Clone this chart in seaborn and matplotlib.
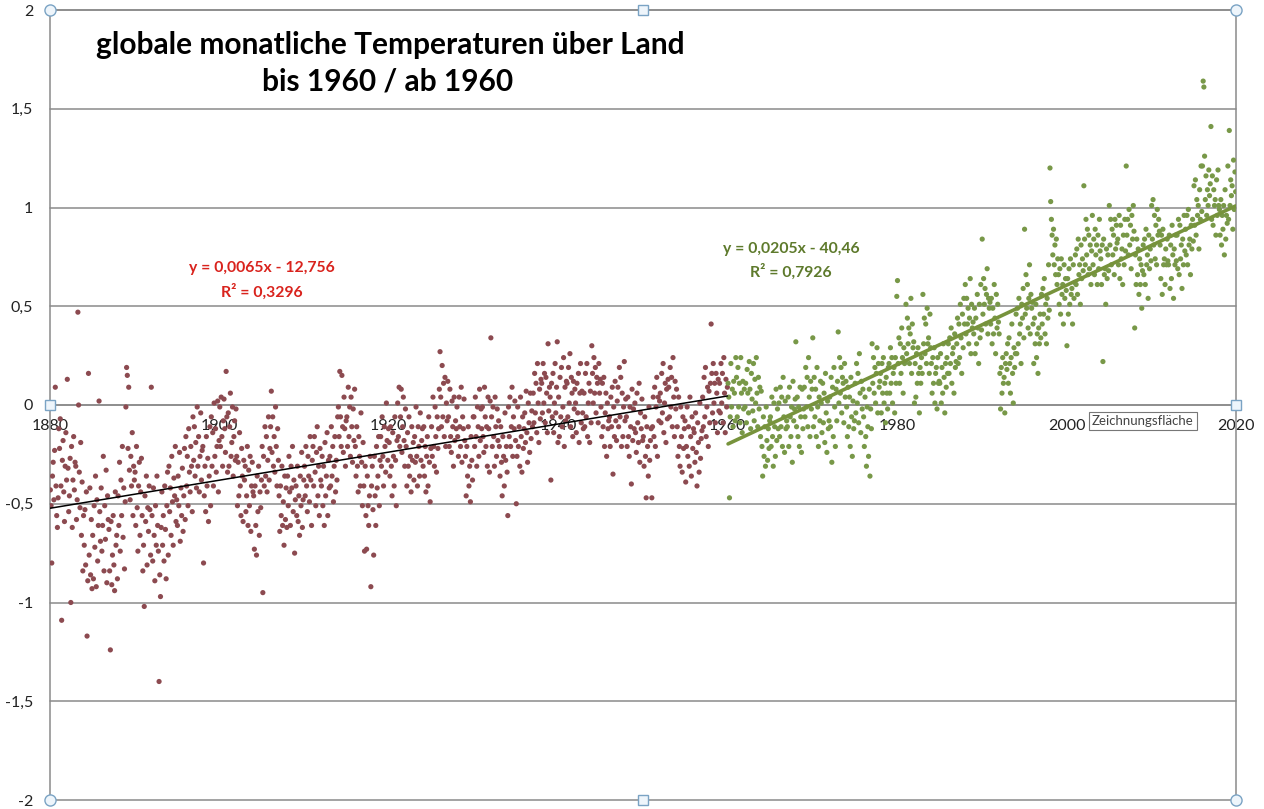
import numpy as np
import pandas as pd
import seaborn as sns
import matplotlib.pyplot as plt

# ---------------- data (monthly land anomalies, hundredths of a degree) ----------------
anom_1880s = [
    -43, -51, -80, -36, -29, -48, -23, 9, -41, -56, -62, -47,
    -12, -22, -7, -41, -109, -28, -18, -44, -59, -31, -14, -38,
    13, -32, -54, -46, -27, -100, -21, -62, -38, -16, -43, -29,
    -31, -58, -48, 47, 0, -34, -52, -19, -66, -39, -84, -56,
    -71, -53, -81, -44, -117, -89, 16, -76, -42, -86, -58, -93,
    -66, -88, -51, -72, -36, -92, -48, -79, -61, 2, -54, -69,
    -42, -74, -61, -26, -84, -51, -68, -33, -90, -46, -58, -63,
    -84, -124, -59, -91, -76, -56, -81, -94, -44, -71, -66, -88,
    -46, -61, -29, -74, -38, -56, -21, -67, -42, -83, -49, -1,
    19, 15, -22, 9, -33, -48, -26, -41, -14, -56, -31, -38]
anom_1890s = [
    -34, -61, -21, -52, -74, -41, -29, -66, -44, -27, -56, -84,
    -71, -102, -46, -59, -36, -81, -52, -64, -41, -53, -76, 9,
    -56, -79, -42, -66, -89, -51, -71, -36, -61, -74, -140, -86,
    -97, -62, -44, -71, -56, -79, -41, -63, -88, -51, -34, -76,
    -31, -54, -42, -66, -26, -49, -71, -37, -46, -21, -59, -48,
    -61, -36, -51, -24, -69, -42, -56, -32, -64, -46, -22, -58,
    -16, -41, -26, -51, -12, -34, -44, -21, -31, -54, -6, -28,
    -11, -36, -19, -42, -1, -31, -16, -44, -26, -4, -38, -23,
    -21, -80, -46, -31, -54, -16, -41, -27, -59, -36, -11, -51,
    -6, -31, -14, -41, 1, -26, -12, -34, -21, 2, -44, -18]
anom_1900s = [
    -1, -21, 4, -16, -31, -8, 3, -12, -24, 17, -6, -34,
    -4, -31, -11, 6, -26, -19, -1, -36, -16, -8, -28, -2,
    -26, -51, -29, -46, -14, -41, -56, -22, -36, -59, -28, -38,
    -31, -54, -46, -21, -61, -33, -51, -26, -64, -41, -29, -44,
    -46, -73, -41, -61, -76, -36, -54, -31, -66, -44, -52, -38,
    -21, -95, -26, -41, -11, -36, -16, -44, -28, -6, -38, -22,
    -11, 7, -24, -6, -31, -16, -34, -1, -21, -41, -12, -28,
    -46, -64, -41, -56, -31, -61, -49, -71, -36, -58, -42, -62,
    -36, -51, -26, -44, -61, -31, -42, -21, -54, -38, -75, -48,
    -41, -56, -31, -59, -46, -66, -36, -51, -24, -62, -48, -38]
anom_1910s = [
    -31, -46, -21, -41, -54, -26, -36, -49, -16, -38, -61, -28,
    -21, -41, -16, -34, -51, -24, -11, -46, -31, -56, -22, -38,
    -41, -26, -51, -31, -61, -19, -46, -36, -14, -56, -28, -42,
    -26, -41, -11, -36, -21, -49, -31, -16, -44, -28, -38, -6,
    -1, -16, 17, -6, -21, 15, -11, -24, 4, -12, -31, -8,
    -6, -21, 9, -16, -1, -26, 4, -11, -29, -2, -18, 8,
    -21, -36, -11, -31, -44, -16, -26, -41, -4, -29, -51, -19,
    -41, -74, -31, -56, -73, -36, -51, -61, -46, -26, -92, -41,
    -31, -53, -76, -26, -46, -61, -21, -42, -36, -16, -51, -28,
    -16, -31, -6, -26, -41, -11, -21, -34, 1, -18, -28, -12]
anom_1920s = [
    -19, -36, -11, -31, -46, -14, -26, -41, -6, -28, -51, -18,
    1, -16, 9, -21, -6, 8, -24, -11, 4, -18, -31, -2,
    -21, -41, -14, -31, -6, -36, -26, -44, -11, -28, -19, -38,
    -16, -29, -1, -26, -41, -11, -21, -36, -4, -28, -18, -12,
    -31, -11, -36, -21, -44, -26, -16, -41, -6, -29, -49, -22,
    -11, -26, 4, -21, -31, -1, -16, -34, -6, -22, -12, 8,
    27, 4, -11, 20, -6, 11, -16, 14, -21, 1, -8, 12,
    -6, -21, 8, -16, -24, 2, -11, -31, 4, -18, -8, -12,
    -1, -16, -26, 4, -11, -21, 9, -29, -6, -12, 3, -18,
    -26, -46, -21, -36, -11, -41, -31, -49, -16, -28, -38, -6]
anom_1930s = [
    -6, -21, 4, -16, -31, -1, -11, -26, 8, -18, -2, -12,
    -1, -16, -24, 9, -6, -21, -11, -31, 4, -12, -34, 2,
    34, -6, -21, -1, -16, -31, 4, -11, -26, -2, -18, -8,
    -21, -36, -11, -29, -46, -16, -26, -41, -4, -28, -21, -34,
    -56, -1, -16, 4, -21, -11, 9, -26, -6, -12, 2, -18,
    -50, -26, -1, -21, -11, -31, 4, -16, -34, -6, -22, -12,
    -4, -19, 7, -14, -29, 1, -9, -24, 6, -17, -3, -11,
    6, -9, 16, -4, 11, -14, 21, 1, -19, 8, -7, 13,
    11, -4, 21, 1, 16, -9, 14, 6, -14, 31, -3, 9,
    4, -38, 11, -6, 16, -14, 1, 21, -4, 9, 32, -19]
anom_1940s = [
    4, -16, 14, -6, 19, -11, -1, 24, -21, 9, -8, 12,
    11, -6, 19, 1, 26, -11, 14, 6, -16, 12, -2, 8,
    1, -14, 11, -4, 16, -19, 6, 21, -9, 7, -4, -12,
    6, -11, 16, -6, 21, -16, 1, 11, -19, 7, -9, 30,
    16, 1, 24, 6, 19, -4, 14, 11, -9, 21, 6, 13,
    -1, -16, 11, -11, 14, -21, -4, 6, -26, 1, -12, -8,
    -6, -21, 4, -11, 9, -35, -1, -16, 12, -8, -18, 2,
    9, -11, 19, -6, 14, -21, 6, -16, -1, 22, -8, 3,
    -6, -21, 4, -16, -26, -1, -11, -40, 8, -18, -2, -12,
    1, -14, -24, 6, -9, -19, 11, -29, -4, -12, 3, -18]
anom_1950s = [
    -16, -31, -6, -26, -47, -11, -21, -36, -1, -28, -18, -12,
    -47, -11, 4, -16, 9, -21, -1, 14, -26, 4, -8, 2,
    6, -9, 16, -4, 21, -14, 1, 11, -19, 8, -7, 13,
    9, -6, 19, -1, 14, -11, 24, 4, -16, 12, -2, 8,
    -11, -26, 4, -21, -31, -1, -16, -34, -6, -22, -12, -8,
    -39, -21, -1, -26, -11, -31, 4, -16, -36, -6, -22, -12,
    -14, -29, -4, -24, -41, -9, -19, -34, 1, -27, -17, -13,
    4, -11, 14, -6, 19, -16, -1, 9, -21, 7, -9, 11,
    41, 16, -4, 21, 1, 11, -9, 16, 6, -14, 13, -3,
    11, -4, 21, 1, 16, -9, 24, 6, -14, 13, -1, 9]
anom_1960s = [
    11, 4, -47, -6, 21, -1, 8, -11, 12, 6, -8, 24,
    14, -6, 19, -1, 11, -9, 24, 6, -14, 12, -2, 8,
    -1, 11, -9, 18, 6, -4, 22, 8, -12, 16, 3, -3,
    21, -8, 13, 1, 24, 6, -11, 14, -2, 9, -16, 7,
    -21, -36, -6, -26, -11, -31, -1, -18, -28, -12, -22, -8,
    -6, -21, 4, -16, -31, 1, -11, -26, 8, -18, -2, -12,
    1, -16, 9, -11, 4, -21, 14, -6, -24, 2, -12, -8,
    -11, 4, -21, 9, -6, -16, -1, -29, 12, -8, -2, 3,
    32, -11, 4, -16, -1, -21, 9, -6, -24, 8, -12, -2,
    9, -6, 19, -1, 14, -11, 24, 4, -16, 12, -2, 8]
anom_1970s = [
    34, -11, 14, -6, 8, -16, 19, -1, -21, 4, -8, 12,
    1, -14, 11, -9, 6, -19, 16, -4, -24, 2, -12, -8,
    4, -11, 14, -29, 9, -16, 19, -1, -21, 8, -8, 12,
    37, 1, 24, 6, 19, -4, 14, 11, -9, 21, 4, 12,
    -1, -16, 9, -11, 4, -21, 14, -6, -26, 2, -12, -8,
    11, -4, 21, 1, 16, -9, 26, 6, -14, 12, -2, 8,
    -6, -21, 4, -16, -31, -1, -11, -26, 8, -36, -2, -12,
    31, 11, 24, 6, 19, 1, 16, 29, -4, 21, 9, 12,
    16, -4, 21, 6, 24, 1, 11, -9, 14, 6, -2, 19,
    21, 6, 29, 11, 24, 1, 16, 19, -4, 24, 11, 55]
anom_1980s = [
    63, 21, 34, 11, 31, 16, 39, 24, 6, 29, 21, 22,
    51, 26, 44, 31, 39, 21, 36, 54, 16, 41, 29, 32,
    1, 21, 4, 26, 11, 29, 16, -4, 19, 11, 24, 16,
    56, 31, 44, 26, 41, 21, 49, 31, 34, 16, 46, 29,
    21, 6, 24, 11, 29, 1, 16, 19, -2, 24, 11, 12,
    11, 26, 1, 19, 6, 31, 14, -4, 21, 9, 24, 16,
    31, 16, 34, 21, 39, 11, 26, 29, 6, 36, 19, 22,
    31, 44, 21, 41, 24, 51, 34, 16, 46, 29, 54, 41,
    61, 36, 54, 41, 49, 31, 44, 64, 26, 51, 39, 42,
    36, 49, 26, 44, 31, 56, 39, 21, 51, 34, 61, 38]
anom_1990s = [
    84, 46, 64, 51, 59, 41, 56, 69, 36, 54, 49, 52,
    41, 54, 31, 49, 36, 61, 44, 26, 56, 39, 51, 42,
    36, 16, -2, 19, 6, 24, 11, 14, -4, 21, 26, 18,
    31, 11, 34, 21, 6, 24, 41, 16, 1, 29, 19, 26,
    46, 26, 49, 31, 54, 36, 41, 21, 51, 44, 59, 34,
    89, 46, 66, 49, 61, 39, 54, 71, 36, 56, 49, 52,
    41, 21, 44, 31, 51, 24, 36, 16, 39, 31, 46, 34,
    56, 41, 59, 46, 64, 36, 51, 31, 54, 44, 71, 48,
    120, 103, 94, 86, 76, 89, 71, 81, 66, 84, 61, 74,
    66, 51, 69, 46, 74, 56, 61, 41, 71, 54, 64, 58]
anom_2000s = [
    30, 64, 46, 69, 51, 74, 56, 59, 41, 71, 54, 62,
    76, 61, 79, 56, 84, 66, 71, 51, 81, 64, 74, 68,
    111, 84, 71, 94, 76, 89, 66, 86, 69, 81, 61, 78,
    96, 71, 84, 66, 89, 76, 81, 61, 86, 69, 94, 78,
    74, 61, 81, 22, 84, 66, 69, 51, 79, 64, 76, 68,
    101, 81, 94, 71, 89, 76, 86, 66, 94, 79, 91, 82,
    84, 71, 96, 64, 91, 74, 79, 61, 86, 71, 94, 78,
    121, 86, 94, 76, 99, 81, 91, 69, 96, 84, 101, 88,
    39, 76, 61, 84, 66, 79, 56, 74, 61, 71, 49, 68,
    81, 66, 84, 61, 89, 71, 76, 54, 86, 69, 79, 73]
anom_2010s = [
    101, 84, 104, 81, 96, 74, 91, 71, 99, 86, 94, 88,
    81, 64, 86, 56, 89, 71, 74, 61, 79, 71, 84, 73,
    71, 86, 59, 81, 64, 91, 76, 54, 79, 71, 86, 73,
    86, 69, 94, 66, 91, 74, 81, 59, 84, 71, 96, 78,
    89, 76, 96, 71, 99, 81, 84, 66, 91, 79, 94, 83,
    111, 91, 114, 86, 104, 96, 101, 79, 109, 94, 121, 98,
    121, 164, 161, 126, 104, 116, 96, 109, 101, 119, 106, 112,
    141, 94, 116, 91, 109, 101, 104, 86, 114, 96, 119, 101,
    99, 86, 104, 81, 96, 89, 101, 76, 109, 84, 96, 92,
    121, 94, 139, 101, 114, 106, 111, 89, 124, 99, 118, 108]

first_year_pre, last_year_pre = 1880, 1959
first_year_post, last_year_post = 1960, 2019

x_ticks = [1880, 1900, 1920, 1940, 1960, 1980, 2000, 2020]
y_ticks = [2, 1.5, 1, 0.5, 0, -0.5, -1, -1.5, -2]
y_tick_labels = ["2", "1,5", "1", "0,5", "0", "-0,5", "-1", "-1,5", "-2"]

title_line1 = "globale monatliche Temperaturen über Land"
title_line2 = "bis 1960 / ab 1960"
eq_pre = ["y = 0,0065x - 12,756", "R² = 0,3296"]
eq_post = ["y = 0,0205x - 40,46", "R² = 0,7926"]


def monthly_frame(values, y0, y1):
    years = np.arange(y0, y1 + 1)
    months = np.tile(np.arange(12), len(years))
    t = np.repeat(years, 12) + (months + 0.5) / 12.0
    return pd.DataFrame({"jahr": t, "anomalie": np.array(values) / 100.0})


pre = monthly_frame(anom_1880s + anom_1890s + anom_1900s + anom_1910s +
                    anom_1920s + anom_1930s + anom_1940s + anom_1950s,
                    first_year_pre, last_year_pre)
post = monthly_frame(anom_1960s + anom_1970s + anom_1980s + anom_1990s +
                     anom_2000s + anom_2010s, first_year_post, last_year_post)

# ---------------- figure ----------------
sns.set_theme(style="white")
plt.rcParams['font.family'] = ['Lato', 'DejaVu Sans']

W, H = 1264, 809
fig = plt.figure(figsize=(W / 100, H / 100), dpi=100)
fig.patch.set_facecolor("white")
ax = fig.add_axes([50 / W, 1 - 800 / H, (1236 - 50) / W, 790 / H])
ax.set_facecolor("white")

grid_col = "#8a8a8a"
red_dot = "#8c4a50"
green_dot = "#789848"
green_line = "#77933c"

sns.scatterplot(data=pre, x="jahr", y="anomalie", color=red_dot, s=14,
                edgecolor="none", linewidth=0, ax=ax, legend=False, zorder=3)
sns.scatterplot(data=post, x="jahr", y="anomalie", color=green_dot, s=14,
                edgecolor="none", linewidth=0, ax=ax, legend=False, zorder=3)
sns.regplot(data=pre, x="jahr", y="anomalie", scatter=False, ci=None,
            truncate=True, color="black", line_kws={"lw": 1.1, "zorder": 4}, ax=ax)
sns.regplot(data=post, x="jahr", y="anomalie", scatter=False, ci=None,
            truncate=True, color=green_line, line_kws={"lw": 2.6, "zorder": 4}, ax=ax)

ax.set_xlim(1880, 2020)
ax.set_ylim(-2, 2)
ax.set_xlabel("")
ax.set_ylabel("")

ax.set_yticks(y_ticks)
ax.set_yticklabels(y_tick_labels)
ax.set_xticks(x_ticks)
ax.set_xticklabels([str(v) for v in x_ticks])

ax.yaxis.grid(True, color=grid_col, lw=1.1)
ax.xaxis.grid(False)
for gl in ax.get_ygridlines():
    gl.set_clip_on(False)
ax.set_axisbelow(True)

for side in ["left", "right", "top", "bottom"]:
    ax.spines[side].set_visible(True)
    ax.spines[side].set_color(grid_col)
    ax.spines[side].set_linewidth(1.1)
ax.spines["bottom"].set_position(("data", 0))

ax.tick_params(axis="x", direction="out", length=5, width=1, color=grid_col,
               pad=5, labelsize=11.5, labelcolor="#222222")
ax.tick_params(axis="y", direction="out", length=5, width=1, color=grid_col,
               pad=7, labelsize=11.5, labelcolor="#222222")

# selection handles (chart editing frame)
hkw = dict(transform=ax.transAxes, clip_on=False, zorder=6, mfc="#eef5fb",
           mec="#7aa3c4", mew=1.0, ls="none")
ax.plot([0, 1, 0, 1], [1, 1, 0, 0], marker="o", ms=8, **hkw)
ax.plot([0.5, 0.5], [1, 0], marker="s", ms=6.5, **hkw)
ax.plot([0, 1], [0.5, 0.5], marker="s", ms=6.5, **hkw)

# texts
fig.text(390 / W, 1 - 45 / H, title_line1, ha="center", va="center",
         fontsize=21.5, fontweight="bold", color="black")
fig.text(388 / W, 1 - 81 / H, title_line2, ha="center", va="center",
         fontsize=21.5, fontweight="bold", color="black")

fig.text(262 / W, 1 - 268 / H, eq_pre[0], ha="center", va="center",
         fontsize=11.3, fontweight="bold", color="#d9231d")
fig.text(262 / W, 1 - 292 / H, eq_pre[1], ha="center", va="center",
         fontsize=11.3, fontweight="bold", color="#d9231d")
fig.text(791 / W, 1 - 249 / H, eq_post[0], ha="center", va="center",
         fontsize=11.3, fontweight="bold", color="#5e7a2c")
fig.text(791 / W, 1 - 272 / H, eq_post[1], ha="center", va="center",
         fontsize=11.3, fontweight="bold", color="#5e7a2c")

fig.text(1143 / W, 1 - 421 / H, "Zeichnungsfläche", ha="center", va="center",
         fontsize=9.5, color="#444444", zorder=10,
         bbox=dict(boxstyle="square,pad=0.25", fc="white", ec="#777777", lw=0.8))

fig.savefig("out.png", dpi=100, facecolor="white")
